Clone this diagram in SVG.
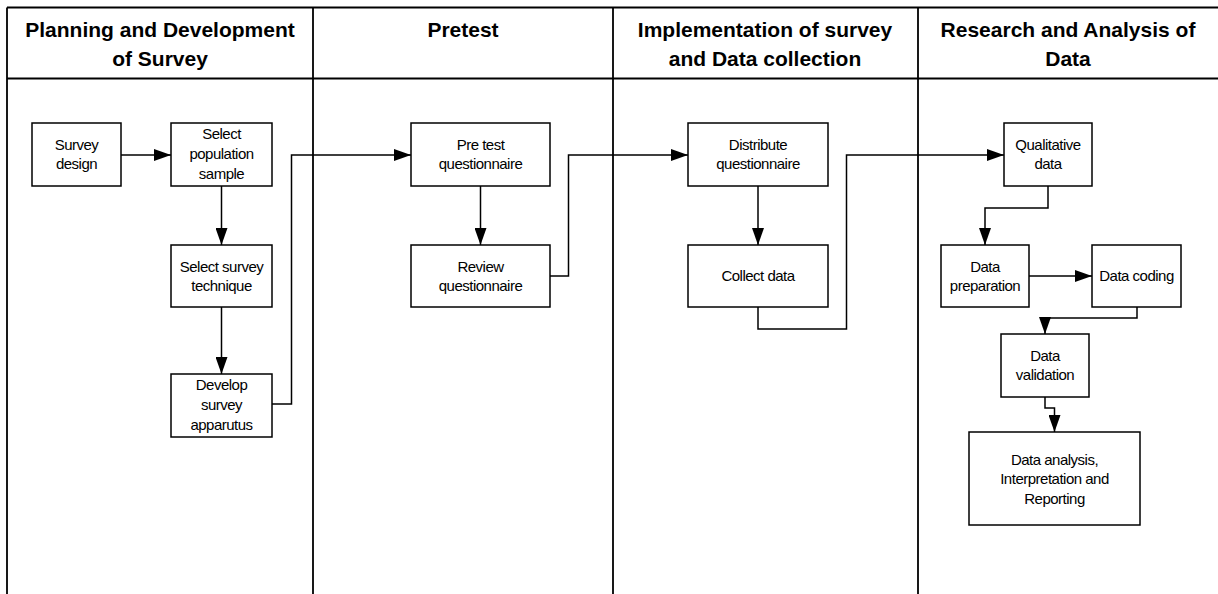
<svg xmlns="http://www.w3.org/2000/svg" width="1218" height="594" viewBox="0 0 1218 594">
  <style>
    .frame { stroke: #000; stroke-width: 1.8; fill: none; }
    .box { fill: #fff; stroke: #000; stroke-width: 1.5; }
    .conn { fill: none; stroke: #000; stroke-width: 1.5; }
    .hdr { font-family: "Liberation Sans", Arial, sans-serif; font-weight: bold; font-size: 21px; text-anchor: middle; fill: #000; }
    .lbl { font-family: "Liberation Sans", Arial, sans-serif; font-size: 15px; letter-spacing: -0.5px; text-anchor: middle; fill: #000; }
  </style>
  <defs>
    <marker id="arrow" markerUnits="userSpaceOnUse" viewBox="0 0 17 12" refX="17" refY="6" markerWidth="17" markerHeight="12" orient="auto">
      <path d="M0,0 L17,6 L0,12 Z" fill="#000"/>
    </marker>
  </defs>
  <rect width="1218" height="594" fill="#fff"/>

  <!-- swimlane frame -->
  <g id="lanes">
    <path class="frame" d="M7,7.5 H1218 M7,78.5 H1218 M7,7.5 V594 M313,7.5 V594 M613,7.5 V594 M918,7.5 V594"/>
    <text class="hdr" x="160" y="37">Planning and Development</text>
    <text class="hdr" x="160" y="66">of Survey</text>
    <text class="hdr" x="463" y="37">Pretest</text>
    <text class="hdr" x="765" y="37">Implementation of survey</text>
    <text class="hdr" x="765" y="66">and Data collection</text>
    <text class="hdr" x="1068" y="37">Research and Analysis of</text>
    <text class="hdr" x="1068" y="66">Data</text>
  </g>

  <!-- connectors -->
  <g id="connectors">
    <path class="conn" marker-end="url(#arrow)" d="M121,155 H171"/>
    <path class="conn" marker-end="url(#arrow)" d="M221.5,186 V245"/>
    <path class="conn" marker-end="url(#arrow)" d="M221.5,307 V374"/>
    <path class="conn" marker-end="url(#arrow)" d="M272,404 H291.5 V155 H411"/>
    <path class="conn" marker-end="url(#arrow)" d="M480.5,186 V245"/>
    <path class="conn" marker-end="url(#arrow)" d="M550,276 H568.5 V155 H688"/>
    <path class="conn" marker-end="url(#arrow)" d="M758,186 V245"/>
    <path class="conn" marker-end="url(#arrow)" d="M758,307 V329 H846.5 V155 H1004"/>
    <path class="conn" marker-end="url(#arrow)" d="M1048,186 V208 H985 V245"/>
    <path class="conn" marker-end="url(#arrow)" d="M1029,276 H1092"/>
    <path class="conn" marker-end="url(#arrow)" d="M1137,307 V318 H1045 V334"/>
    <path class="conn" marker-end="url(#arrow)" d="M1045,397 V408 H1054.5 V432"/>
  </g>

  <g id="survey-design">
    <rect class="box" x="32" y="123" width="89" height="63"/>
    <text class="lbl" x="76.5" y="150">Survey</text>
    <text class="lbl" x="76.5" y="169">design</text>
  </g>
  <g id="select-population">
    <rect class="box" x="171" y="123" width="101" height="63"/>
    <text class="lbl" x="221.5" y="139">Select</text>
    <text class="lbl" x="221.5" y="159">population</text>
    <text class="lbl" x="221.5" y="179">sample</text>
  </g>
  <g id="select-technique">
    <rect class="box" x="171" y="245" width="101" height="62"/>
    <text class="lbl" x="221.5" y="272">Select survey</text>
    <text class="lbl" x="221.5" y="291">technique</text>
  </g>
  <g id="develop-apparatus">
    <rect class="box" x="171" y="374" width="101" height="63"/>
    <text class="lbl" x="221.5" y="390">Develop</text>
    <text class="lbl" x="221.5" y="410">survey</text>
    <text class="lbl" x="221.5" y="430">apparutus</text>
  </g>
  <g id="pretest-questionnaire">
    <rect class="box" x="411" y="123" width="139" height="63"/>
    <text class="lbl" x="480.5" y="150">Pre test</text>
    <text class="lbl" x="480.5" y="169">questionnaire</text>
  </g>
  <g id="review-questionnaire">
    <rect class="box" x="411" y="245" width="139" height="62"/>
    <text class="lbl" x="480.5" y="272">Review</text>
    <text class="lbl" x="480.5" y="291">questionnaire</text>
  </g>
  <g id="distribute-questionnaire">
    <rect class="box" x="688" y="123" width="140" height="63"/>
    <text class="lbl" x="758" y="150">Distribute</text>
    <text class="lbl" x="758" y="169">questionnaire</text>
  </g>
  <g id="collect-data">
    <rect class="box" x="688" y="245" width="140" height="62"/>
    <text class="lbl" x="758" y="281">Collect data</text>
  </g>
  <g id="qualitative-data">
    <rect class="box" x="1004" y="123" width="88" height="63"/>
    <text class="lbl" x="1048" y="150">Qualitative</text>
    <text class="lbl" x="1048" y="169">data</text>
  </g>
  <g id="data-preparation">
    <rect class="box" x="941" y="245" width="88" height="62"/>
    <text class="lbl" x="985" y="272">Data</text>
    <text class="lbl" x="985" y="291">preparation</text>
  </g>
  <g id="data-coding">
    <rect class="box" x="1092" y="245" width="89" height="62"/>
    <text class="lbl" x="1136.5" y="281">Data coding</text>
  </g>
  <g id="data-validation">
    <rect class="box" x="1001" y="334" width="88" height="63"/>
    <text class="lbl" x="1045" y="361">Data</text>
    <text class="lbl" x="1045" y="380">validation</text>
  </g>
  <g id="data-analysis">
    <rect class="box" x="969" y="432" width="171" height="93"/>
    <text class="lbl" x="1054.5" y="465">Data analysis,</text>
    <text class="lbl" x="1054.5" y="484">Interpretation and</text>
    <text class="lbl" x="1054.5" y="504">Reporting</text>
  </g>
</svg>
